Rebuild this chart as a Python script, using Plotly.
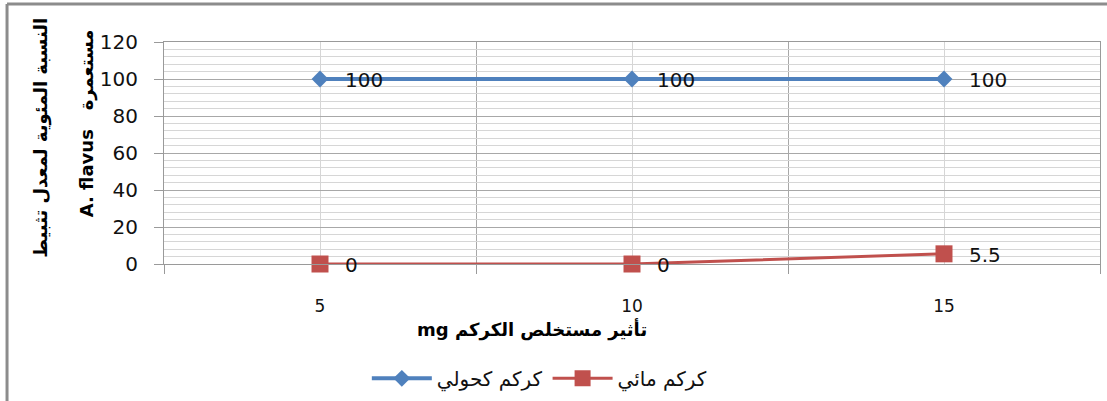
import plotly.graph_objects as go

# Extract dose (mg) and inhibition percentages
doses = [5, 10, 15]
alcoholic = [100, 100, 100]
aqueous = [0, 0, 5.5]
series_names = ["كركم كحولي", "كركم مائي"]
x_title = "mg تأثير مستخلص الكركم"
y_title_1 = "النسبة المئوية لمعدل تثبيط"
y_title_2 = "A. flavus   مستعمرة"

BLUE = "#4F81BD"
RED = "#C0504D"
FONT = "DejaVu Sans, sans-serif"

fig = go.Figure()
fig.add_trace(go.Scatter(
    x=doses, y=alcoholic, name=series_names[0], mode="lines+markers",
    line=dict(color=BLUE, width=4),
    marker=dict(symbol="diamond", size=13, color=BLUE),
    cliponaxis=False,
))
fig.add_trace(go.Scatter(
    x=doses, y=aqueous, name=series_names[1], mode="lines+markers",
    line=dict(color=RED, width=3),
    marker=dict(symbol="square", size=17, color=RED),
    cliponaxis=False,
))

# value labels to the right of each point
for xs, ys in ((doses, alcoholic), (doses, aqueous)):
    for xv, yv in zip(xs, ys):
        fig.add_annotation(x=xv, y=yv, text=f"{yv:g}", showarrow=False,
                           xanchor="left", yanchor="middle", xshift=23, yshift=-1,
                           font=dict(size=20, color="#111", family=FONT))

# axis titles
fig.add_annotation(xref="paper", yref="paper", x=0.393, y=-0.295, text=f"<b>{x_title}</b>",
                   showarrow=False, xanchor="center", yanchor="middle",
                   font=dict(size=18, color="black", family=FONT))
fig.add_annotation(xref="paper", yref="paper", x=-0.131, y=0.57, text=f"<b>{y_title_1}</b>",
                   showarrow=False, textangle=-90, xanchor="center", yanchor="middle",
                   font=dict(size=18, color="black", family=FONT))
fig.add_annotation(xref="paper", yref="paper", x=-0.082, y=0.635, text=f"<b>{y_title_2}</b>",
                   showarrow=False, textangle=-90, xanchor="center", yanchor="middle",
                   font=dict(size=18, color="black", family=FONT))

# outer chart frame (top and left edges)
fig.add_shape(type="line", xref="paper", yref="paper", x0=-0.1677, x1=1.2, y0=1.171, y1=1.171,
              line=dict(color="#8c8c8c", width=3), layer="above")
fig.add_shape(type="line", xref="paper", yref="paper", x0=-0.1677, x1=-0.1677, y0=1.171, y1=-1.0,
              line=dict(color="#8c8c8c", width=3), layer="above")

fig.update_layout(
    width=1107, height=401,
    margin=dict(l=164, r=7, t=42, b=137, autoexpand=False),
    paper_bgcolor="white", plot_bgcolor="white",
    font=dict(family=FONT, size=17, color="#111"),
    showlegend=True,
    legend=dict(orientation="h", x=0.2167, y=-0.515, xanchor="left", yanchor="middle",
                font=dict(size=20, family=FONT), itemwidth=60,
                tracegroupgap=0, bgcolor="rgba(0,0,0,0)"),
    xaxis=dict(
        range=[2.5, 17.5], tickvals=doses, ticktext=[str(d) for d in doses],
        showgrid=True, gridcolor="#d6d6d6", gridwidth=1,
        ticks="", ticklabelstandoff=27, tickfont=dict(size=17),
        showline=True, linecolor="#9a9a9a", linewidth=1, mirror=True,
        zeroline=False,
        minor=dict(tickvals=[2.5, 7.5, 12.5, 17.5], ticks="outside", ticklen=9,
                   tickcolor="#9a9a9a", showgrid=True, gridcolor="#a8a8a8", gridwidth=1),
    ),
    yaxis=dict(
        range=[0, 120], dtick=20, tick0=0,
        showgrid=True, gridcolor="#a8a8a8", gridwidth=1,
        ticks="outside", ticklen=9, tickcolor="#9a9a9a", ticklabelstandoff=12,
        tickfont=dict(size=20),
        showline=True, linecolor="#9a9a9a", linewidth=1, mirror=True,
        zeroline=False,
        minor=dict(dtick=4, tick0=0, showgrid=True, gridcolor="#d6d6d6", gridwidth=1, ticks=""),
    ),
)

fig.write_html("out.html")
